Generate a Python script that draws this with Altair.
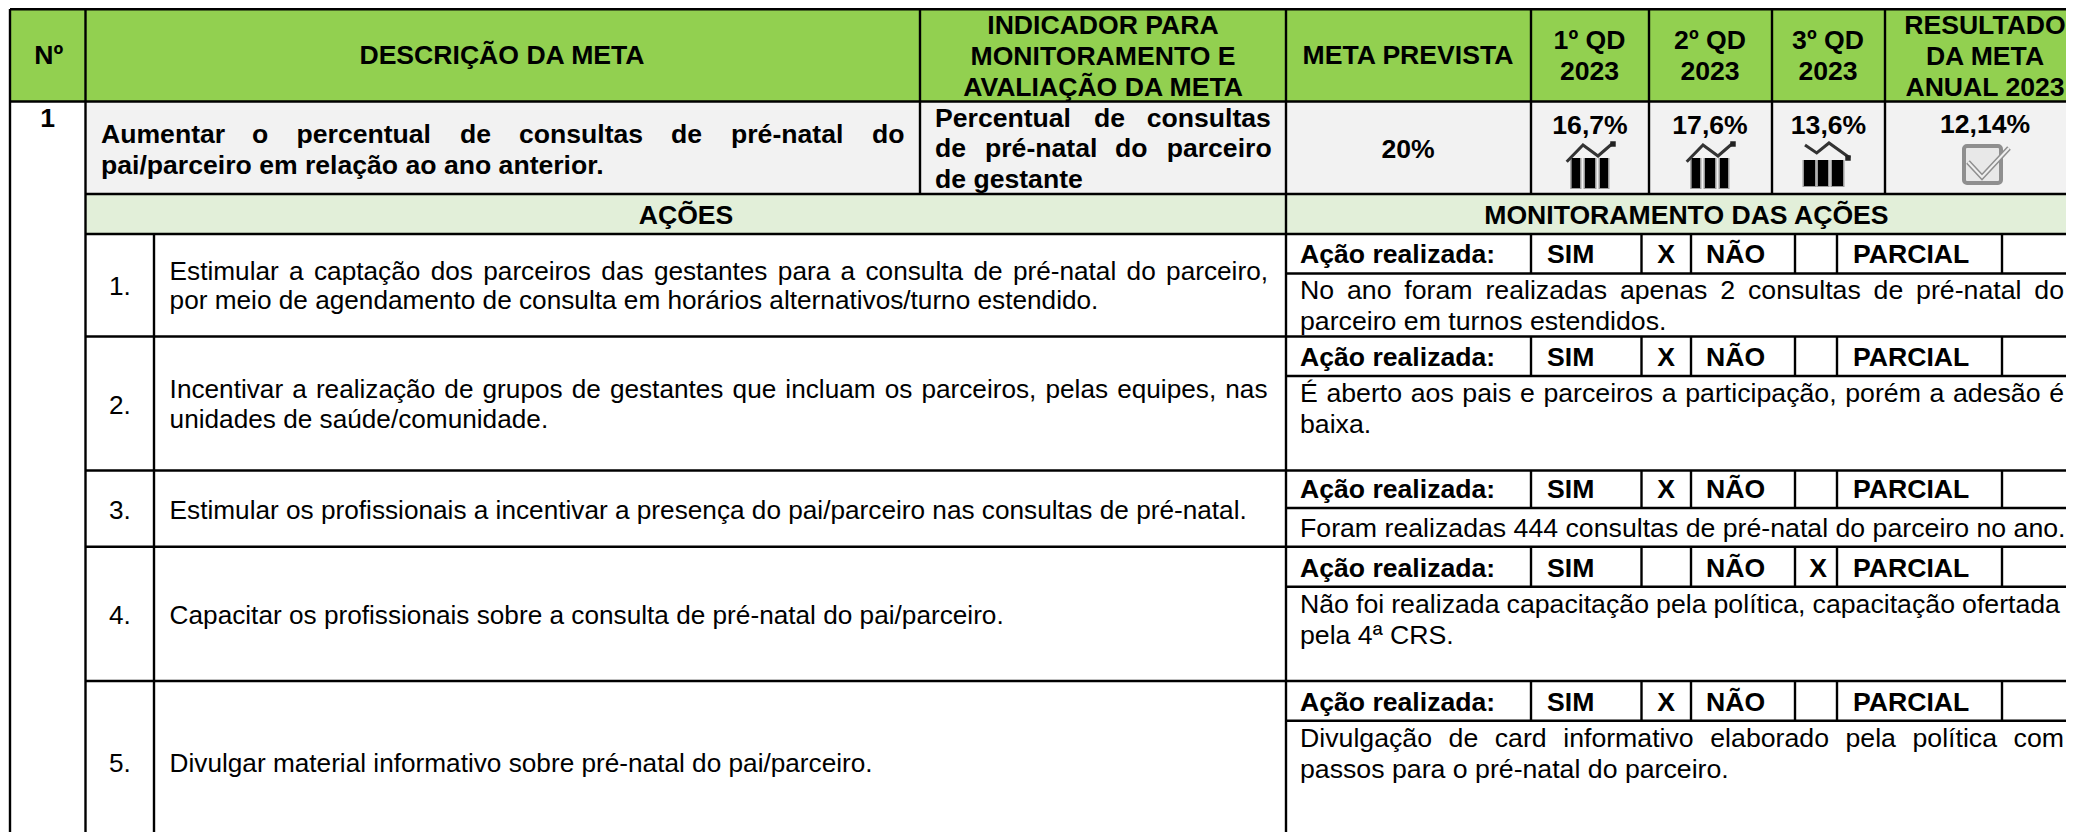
import altair as alt
import pandas as pd

FONT = "Liberation Sans"
GREEN, GREY, PALE = "#92D050", "#F2F2F2", "#E2EFD9"
BOLD_SIZE, ACTION_SIZE, NOTE_SIZE = 26.6, 26.2, 26.7

X_SCALE = alt.Scale(domain=[8, 2066], range=[0, 2058])
Y_SCALE = alt.Scale(domain=[8, 832], range=[0, 824])

# Arial/Liberation advance widths (per 1000 em), used only to justify lines as in the source table
ADV = {**dict.fromkeys("abdeghnopqu", 556), **dict.fromkeys("csvxyz", 500),
       "k": 500, "f": 278, "t": 278, "i": 222, "j": 222, "l": 222, "m": 833, "r": 333, "w": 722,
       ",": 278, ".": 278, "-": 333, "/": 278, "E": 667, "É": 667, "I": 278, "N": 722, "D": 722, "2": 556,
       "á": 556, "ã": 556, "é": 556, "í": 278, "ç": 500, "ó": 556, "ú": 556, "õ": 556}

def word_width(word, size):
    return sum(ADV.get(c, 556) for c in word) * size / 1000

def justify(line, x0, x1, size):
    words = line.split(" ")
    gap = (x1 - x0 - sum(word_width(w, size) for w in words)) / (len(words) - 1)
    out, x = [], x0
    for w in words:
        out.append((w, x))
        x += word_width(w, size) + gap
    return out

# ---- table grid -----------------------------------------------------------
COL = dict(left=10, num=85.5, act=154, ind=920, mon=1286, meta=1531, q1=1649, q2=1772, q3=1885,
           right=2066, s1=1641.5, s2=1691, s3=1795, s4=1837, s5=2002)
ROW = dict(top=9, head=101.5, goal=194, acts=234, end=832)
ACTION_BOTTOMS = [336.5, 470.5, 546.7, 681, 832]
STATUS_BOTTOMS = [273.5, 376, 508, 586.7, 720.7]
ACTION_TOPS = [234, 336.5, 470.5, 546.7, 681]

fills = pd.DataFrame([
    dict(x=COL["left"], x2=COL["right"], y=ROW["top"], y2=ROW["head"], c=GREEN),
    dict(x=COL["num"], x2=COL["right"], y=ROW["head"], y2=ROW["goal"], c=GREY),
    dict(x=COL["num"], x2=COL["right"], y=ROW["goal"], y2=ROW["acts"], c=PALE),
])

rules = []
def h(y, a, b, w=2.6): rules.append(dict(x=a, x2=b, y=y, y2=y, w=w))
def v(x, a, b, w=2.4): rules.append(dict(x=x, x2=x, y=a, y2=b, w=w))

h(ROW["top"], COL["left"], COL["right"], 3)
h(ROW["head"], COL["left"], COL["right"])
for y in [ROW["goal"], ROW["acts"]] + ACTION_BOTTOMS[:4]:
    h(y, COL["num"], COL["right"])
for y in STATUS_BOTTOMS:
    h(y, COL["mon"], COL["right"])
for x in [COL["left"], COL["num"], COL["mon"]]:
    v(x, ROW["top"], ROW["end"])
v(COL["act"], ROW["acts"], ROW["end"])
for x in [COL["ind"], COL["meta"], COL["q1"], COL["q2"], COL["q3"]]:
    v(x, ROW["top"], ROW["goal"])
for top, bot in zip(ACTION_TOPS, STATUS_BOTTOMS):
    for k in ["meta", "s1", "s2", "s3", "s4", "s5"]:
        v(COL[k], top, bot)
rules = pd.DataFrame(rules)

# ---- texts ----------------------------------------------------------------
HEADERS = ["Nº", "DESCRIÇÃO DA META", "INDICADOR PARA", "MONITORAMENTO E", "AVALIAÇÃO DA META",
           "META PREVISTA", "1º QD", "2023", "2º QD", "2023", "3º QD", "2023",
           "RESULTADO", "DA META", "ANUAL 2023"]
HEADER_X = [48.7, 502, 1103, 1103, 1103, 1408, 1589.5, 1589.5, 1710, 1710, 1828, 1828, 1985, 1985, 1985]
HEADER_Y = [64, 64, 34, 64.7, 95.7, 64, 49, 80, 49, 80, 49, 80, 34, 64.7, 95.7]

RESULTS = ["1", "20%", "16,7%", "17,6%", "13,6%", "12,14%", "AÇÕES", "MONITORAMENTO DAS AÇÕES"]
RESULT_X = [47.7, 1408, 1590, 1710, 1828.5, 1985, 686, 1686.4]
RESULT_Y = [127, 157.7, 134, 134, 134, 133, 224, 224]

GOAL_WORDS = ["Aumentar", "o", "percentual", "de", "consultas", "de", "pré-natal", "do",
              "pai/parceiro em relação ao ano anterior.",
              "Percentual", "de", "consultas",
              "de", "pré-natal", "do", "parceiro",
              "de gestante"]
GOAL_X = [101, 252, 296.5, 460, 519, 671, 731, 872, 101, 935, 1094, 1146.7, 935, 985, 1115, 1166.7, 935]
GOAL_Y = [142.7] * 8 + [173.7] + [127] * 3 + [157.3] * 4 + [188.3]

ACTION_NUMS = ["1.", "2.", "3.", "4.", "5."]
ACTION_NUM_Y = [295, 413.7, 518.7, 623.8, 772]
ACTION_JUSTIFIED = [
    ("Estimular a captação dos parceiros das gestantes para a consulta de pré-natal do parceiro,", 280, 1268),
    ("Incentivar a realização de grupos de gestantes que incluam os parceiros, pelas equipes, nas", 397.7, 1267.5),
]
ACTION_PLAIN = [
    ("por meio de agendamento de consulta em horários alternativos/turno estendido.", 309),
    ("unidades de saúde/comunidade.", 428),
    ("Estimular os profissionais a incentivar a presença do pai/parceiro nas consultas de pré-natal.", 518.7),
    ("Capacitar os profissionais sobre a consulta de pré-natal do pai/parceiro.", 623.8),
    ("Divulgar material informativo sobre pré-natal do pai/parceiro.", 772),
]

STATUS_Y = [263, 366, 498, 576.7, 710.7]
STATUS_MARK = ["SIM", "SIM", "SIM", "NAO", "SIM"]

NOTE_JUSTIFIED = [
    ("No ano foram realizadas apenas 2 consultas de pré-natal do", 299, 2064),
    ("É aberto aos pais e parceiros a participação, porém a adesão é", 402, 2064),
    ("Não foi realizada capacitação pela política, capacitação ofertada", 612.7, 2060),
    ("Divulgação de card informativo elaborado pela política com", 746.7, 2064),
]
NOTE_PLAIN = [
    ("parceiro em turnos estendidos.", 330),
    ("baixa.", 433),
    ("Foram realizadas 444 consultas de pré-natal do parceiro no ano.", 537),
    ("pela 4ª CRS.", 644),
    ("passos para o pré-natal do parceiro.", 778),
]

texts = []
def add(s, x, y, bold=False, align="left", size=NOTE_SIZE):
    texts.append(dict(s=s, x=x, y=y, bold=bold, align=align, size=size))

for s, x, y in zip(HEADERS, HEADER_X, HEADER_Y):
    add(s, x, y, True, "center", BOLD_SIZE)
for s, x, y in zip(RESULTS, RESULT_X, RESULT_Y):
    add(s, x, y, True, "center", BOLD_SIZE)
for s, x, y in zip(GOAL_WORDS, GOAL_X, GOAL_Y):
    add(s, x, y, True, "left", BOLD_SIZE)
for s, y in zip(ACTION_NUMS, ACTION_NUM_Y):
    add(s, 109, y, size=ACTION_SIZE)
for line, y, end in ACTION_JUSTIFIED:
    for w, x in justify(line, 169.6, end, ACTION_SIZE):
        add(w, x, y, size=ACTION_SIZE)
for line, y in ACTION_PLAIN:
    add(line, 169.6, y, size=ACTION_SIZE)
for y, mark in zip(STATUS_Y, STATUS_MARK):
    add("Ação realizada:", 1300, y, True, "left", BOLD_SIZE)
    add("SIM", 1547, y, True, "left", BOLD_SIZE)
    add("NÃO", 1706, y, True, "left", BOLD_SIZE)
    add("PARCIAL", 1853, y, True, "left", BOLD_SIZE)
    add("X", 1666 if mark == "SIM" else 1818, y, True, "center", BOLD_SIZE)
for line, y, end in NOTE_JUSTIFIED:
    for w, x in justify(line, 1300, end, NOTE_SIZE):
        add(w, x, y)
for line, y in NOTE_PLAIN:
    add(line, 1300, y)
texts = pd.DataFrame(texts)

# ---- trend icons ----------------------------------------------------------
UP_LINE_X = [1686.7, 1703, 1718, 1733]
UP_LINE_Y = [161.7, 145, 156, 143]
UP_BAR_X = [(1691.7, 1700), (1705, 1715), (1720, 1728)]
DOWN_LINE_X = [1805, 1816.7, 1829, 1850]
DOWN_LINE_Y = [145, 153, 143, 158]
DOWN_BAR_X = [(1804, 1815), (1818, 1828), (1832, 1843)]

bars, lines, heads = [], [], []
for dx, grp in [(-120, "a"), (0, "b")]:
    for a, b in UP_BAR_X:
        bars.append(dict(x=a + dx, x2=b + dx, y=158, y2=188))
    for i, (lx, ly) in enumerate(zip(UP_LINE_X, UP_LINE_Y)):
        lines.append(dict(x=lx + dx, y=ly, g=grp, o=i))
    heads.append(dict(x=1733 + dx, y=144))
for a, b in DOWN_BAR_X:
    bars.append(dict(x=a, x2=b, y=160, y2=186))
for i, (lx, ly) in enumerate(zip(DOWN_LINE_X, DOWN_LINE_Y)):
    lines.append(dict(x=lx, y=ly, g="c", o=i))
heads.append(dict(x=1848, y=158))
bars, lines, heads = pd.DataFrame(bars), pd.DataFrame(lines), pd.DataFrame(heads)
halo = bars.assign(x=bars.x - 1.5, x2=bars.x2 + 1.5, y2=bars.y2 + 1)

CHECK_BOX_X = [1964, 2001]
CHECK_BOX_Y = [146, 183]
check_line = pd.DataFrame(dict(x=[1968, 1982, 2009], y=[162, 177, 148], o=[0, 1, 2]))

enc_x = alt.X("x:Q", scale=X_SCALE, axis=None)
enc_y = alt.Y("y:Q", scale=Y_SCALE, axis=None)

layers = [
    alt.Chart(fills).mark_rect().encode(enc_x, x2="x2:Q", y=enc_y, y2="y2:Q",
                                        color=alt.Color("c:N", scale=None)),
    alt.Chart(rules).mark_rule(color="black").encode(enc_x, x2="x2:Q", y=enc_y, y2="y2:Q",
                                                     strokeWidth=alt.StrokeWidth("w:Q", scale=None)),
]
for (bold, align), part in texts.groupby(["bold", "align"]):
    layers.append(
        alt.Chart(part).mark_text(font=FONT, fontWeight="bold" if bold else "normal", align=align,
                                  baseline="alphabetic", color="#000000")
        .encode(enc_x, enc_y, text="s:N", size=alt.Size("size:Q", scale=None))
    )
layers += [
    alt.Chart(halo).mark_rect(color="#9A9A9A").encode(enc_x, x2="x2:Q", y=enc_y, y2="y2:Q"),
    alt.Chart(bars).mark_rect(color="#000000").encode(enc_x, x2="x2:Q", y=enc_y, y2="y2:Q"),
    alt.Chart(lines).mark_line(color="#333333", strokeWidth=3).encode(enc_x, enc_y, detail="g:N", order="o:Q"),
    alt.Chart(heads).mark_point(shape="square", filled=True, color="#222222", size=30, opacity=1).encode(enc_x, enc_y),
    alt.Chart(pd.DataFrame(dict(x=[CHECK_BOX_X[0]], x2=[CHECK_BOX_X[1]], y=[CHECK_BOX_Y[0]], y2=[CHECK_BOX_Y[1]])))
    .mark_rect(fill="#E8E8E8", stroke="#8F8F8F", strokeWidth=4, cornerRadius=3).encode(enc_x, x2="x2:Q", y=enc_y, y2="y2:Q"),
    alt.Chart(check_line).mark_line(color="#8F8F8F", strokeWidth=5).encode(enc_x, enc_y, order="o:Q"),
    alt.Chart(check_line).mark_line(color="#EFEFEF", strokeWidth=2).encode(enc_x, enc_y, order="o:Q"),
]

chart = (
    alt.layer(*layers)
    .resolve_scale(color="independent")
    .properties(width=2058, height=824, padding=0, background="white",
                autosize=alt.AutoSizeParams(type="none"))
    .configure_view(stroke=None)
)
chart.save("out.html", embed_options={"renderer": "svg", "actions": False})
